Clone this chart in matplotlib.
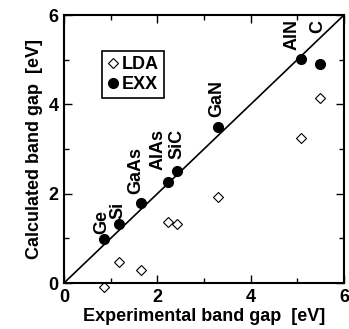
import matplotlib
matplotlib.use("Agg")
import matplotlib.pyplot as plt
from matplotlib.ticker import MultipleLocator

# data (eV)
materials = ["Ge", "Si", "GaAs", "AlAs", "SiC", "GaN", "AlN", "C"]
exp_gap = [0.85, 1.18, 1.65, 2.23, 2.42, 3.30, 5.07, 5.48]
exx_gap = [0.98, 1.32, 1.79, 2.26, 2.50, 3.49, 5.01, 4.90]
lda_gap = [-0.09, 0.47, 0.29, 1.36, 1.32, 1.92, 3.24, 4.14]

# label offsets from the EXX point, in pixels
label_dx = [-2, -1, -5, -10, 0, -1, -9, -2]
label_dy = [5, 5, 9, 12, 12, 10, 9, 31]

plt.rcParams["font.family"] = ["Liberation Sans", "DejaVu Sans"]
plt.rcParams["font.weight"] = "bold"

fig = plt.figure(figsize=(3.49, 3.29), dpi=100)
ax = fig.add_axes([0.1834, 0.1398, 0.8023, 0.8146])

ax.plot([0, 6], [0, 6], color="black", linewidth=1.2)
ax.plot(exp_gap, lda_gap, linestyle="none", marker="D", markersize=5.5,
        markerfacecolor="white", markeredgecolor="black", markeredgewidth=0.8,
        label="LDA", clip_on=False)
ax.plot(exp_gap, exx_gap, linestyle="none", marker="o", markersize=7,
        color="black", label="EXX", clip_on=False)

for name, x, y, dx, dy in zip(materials, exp_gap, exx_gap, label_dx, label_dy):
    ax.annotate(name, (x, y), xytext=(dx, dy), textcoords="offset pixels",
                rotation=90, ha="center", va="bottom", fontsize=13,
                fontweight="bold")

ax.set_xlim(0, 6)
ax.set_ylim(0, 6)
ax.xaxis.set_major_locator(MultipleLocator(2))
ax.yaxis.set_major_locator(MultipleLocator(2))
ax.xaxis.set_minor_locator(MultipleLocator(1))
ax.yaxis.set_minor_locator(MultipleLocator(1))
ax.tick_params(which="both", direction="in", top=True, right=True,
               labelsize=13, width=1.0)
ax.tick_params(which="major", length=6, pad=4)
ax.tick_params(which="minor", length=3.5)
for s in ax.spines.values():
    s.set_linewidth(1.5)

ax.set_xlabel("Experimental band gap  [eV]", fontsize=13, fontweight="bold",
              labelpad=2)
ax.set_ylabel("Calculated band gap  [eV]", fontsize=13, fontweight="bold",
              labelpad=4)

leg = ax.legend(loc="upper left", bbox_to_anchor=(0.136, 0.866),
                borderaxespad=0, fontsize=13, handlelength=0.6,
                handletextpad=0.2, borderpad=0.3, labelspacing=0.15,
                fancybox=False, framealpha=1, edgecolor="black")
leg.get_frame().set_linewidth(1.2)

fig.savefig("out.png", dpi=100)
